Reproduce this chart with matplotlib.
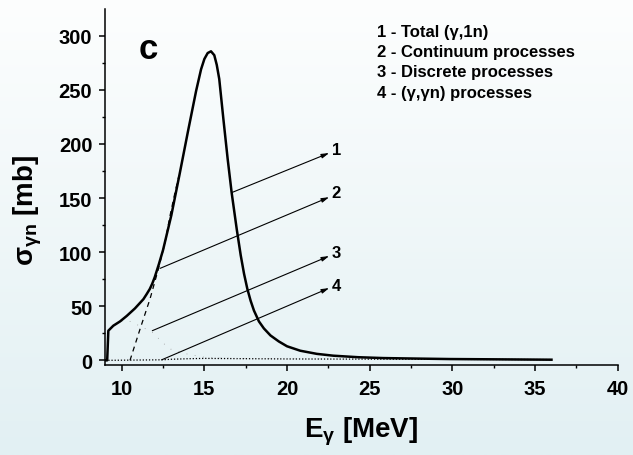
import numpy as np
import matplotlib
matplotlib.use("Agg")
import matplotlib.pyplot as plt
from matplotlib.ticker import MultipleLocator

plt.rcParams['font.family'] = ['Liberation Sans', 'DejaVu Sans']
plt.rcParams['font.weight'] = 'bold'
plt.rcParams['mathtext.fontset'] = 'custom'
plt.rcParams['mathtext.rm'] = 'Liberation Sans:bold'
plt.rcParams['mathtext.it'] = 'Liberation Sans:bold'
plt.rcParams['mathtext.bf'] = 'Liberation Sans:bold'

# ---- data ----
energy_total = [9.05, 9.12, 9.19, 9.49, 9.9, 10.3, 10.8, 11.31, 11.5, 11.7, 11.85, 12.0,
                12.25, 12.5, 13.0, 13.5, 14.0, 14.5, 14.8, 15.0, 15.2, 15.4, 15.6, 15.75,
                15.9, 16.15, 16.41, 16.65, 16.96, 17.2, 17.4, 17.6, 17.8, 18.0,
                18.3, 18.6, 19.0, 19.5, 20.0, 20.8, 21.8, 22.8, 24.3, 25.83, 28.0,
                29.86, 33.0, 36.0]
sigma_total = [0, 0, 27.4, 32, 36, 41, 48, 56.5, 61, 66, 71, 77,
               89, 102, 134, 172, 211, 249, 269, 278.5, 284, 285.6, 282, 273,
               260, 223, 186, 155, 121, 97, 80, 66, 55, 46,
               36, 29.5, 23, 17.5, 13, 8.9, 6.0, 4.3, 2.9, 2.1, 1.6,
               1.2, 0.9, 0.6]

energy_cont = [10.5, 11.11, 11.71, 12.21, 12.62, 12.92, 13.22, 13.45]
sigma_cont = [0, 29, 56.7, 84, 109, 133.6, 155, 170]

energy_disc = [9.19, 9.49, 9.9, 10.5, 11.2, 11.85, 12.5, 12.96, 13.97, 15.14, 17.0,
               20.0, 25.0, 30.0, 36.0]
sigma_disc = [27, 32, 36, 36, 31, 26, 16, 10.4, 5.8, 2.5, 1.8, 1.5, 1.2, 1.0, 0.8]

energy_ggn = [9.0, 12.42, 13.0, 14.0, 15.0, 17.0, 20.0, 25.0, 30.0, 36.0]
sigma_ggn = [0, 0.5, 1.0, 1.5, 1.8, 1.6, 1.3, 1.1, 0.9, 0.7]

arrow_labels = ['1', '2', '3', '4']
arrow_tail_x = [16.65, 12.32, 11.85, 12.42]
arrow_tail_y = [155, 85, 27.4, 0.5]
arrow_tip_x = [22.55, 22.55, 22.55, 22.55]
arrow_tip_y = [191.6, 150.8, 96.4, 66.8]
arrow_label_y = [194.6, 155, 99.8, 69]

legend_lines = ['1 - Total (γ,1n)', '2 - Continuum processes',
                '3 - Discrete processes', '4 - (γ,γn) processes']

x_ticks = [10, 15, 20, 25, 30, 35, 40]
y_ticks = [0, 50, 100, 150, 200, 250, 300]

# ---- figure ----
W, H = 633, 456
fig = plt.figure(figsize=(W / 100, H / 100), dpi=100)

# background gradient
bg = fig.add_axes([0, 0, 1, 1], zorder=-10)
top = np.array([0xfd, 0xfe, 0xfe]) / 255
bot = np.array([0xe2, 0xf0, 0xf3]) / 255
t = np.linspace(0, 1, 256)[:, None]
grad = (top[None, :] * (1 - t) + bot[None, :] * t)[:, None, :]
bg.imshow(grad, aspect='auto', extent=[0, 1, 0, 1], origin='upper')
bg.set_axis_off()

left, right, ytop, ybot = 105.2, 617.6, 10, 366
ax = fig.add_axes([left / W, 1 - ybot / H, (right - left) / W, (ybot - ytop) / H])
ax.patch.set_alpha(0)

ax.plot(energy_ggn, sigma_ggn, color='black', lw=0.9, linestyle=(0, (1, 1.5)))
ax.plot(energy_disc, sigma_disc, color='#9a9a9a', lw=0.6, linestyle=(0, (1, 9)))
ax.plot(energy_cont, sigma_cont, color='black', lw=0.9, linestyle=(0, (4, 3.5)))
ax.plot(energy_total, sigma_total, color='black', lw=1.8, solid_joinstyle='round')

for lab, tx, ty, hx, hy, ly in zip(arrow_labels, arrow_tail_x, arrow_tail_y,
                                   arrow_tip_x, arrow_tip_y, arrow_label_y):
    ax.annotate('', xy=(hx, hy), xytext=(tx, ty),
                arrowprops=dict(arrowstyle='-|>,head_length=0.45,head_width=0.13',
                                lw=0.8, color='black', shrinkA=0, shrinkB=0))
    ax.text(hx + 0.15, ly, lab, fontsize=12, fontweight='bold', ha='left', va='center')

ax.text(11.59, 288.6, 'c', fontsize=25, fontweight='bold', ha='center', va='center')

ax.set_xlim(9, 40)
ax.set_ylim(-4.3, 324.7)
ax.set_xticks(x_ticks)
ax.set_yticks(y_ticks)
ax.xaxis.set_minor_locator(MultipleLocator(2.5))
ax.yaxis.set_minor_locator(MultipleLocator(25))
for s in ['top', 'right']:
    ax.spines[s].set_visible(False)
for s in ['left', 'bottom']:
    ax.spines[s].set_linewidth(1.1)
ax.tick_params(which='major', direction='out', length=4.3, width=1.1, labelsize=14.5)
ax.tick_params(which='minor', direction='out', length=2.5, width=1.0)
ax.tick_params(axis='x', which='major', pad=6)
ax.tick_params(axis='y', which='major', pad=5)
for lbl in ax.get_xticklabels() + ax.get_yticklabels():
    lbl.set_fontweight('bold')

fig.text(361 / W, 1 - 432 / H, r'E$_{\gamma}$ [MeV]', fontsize=20, fontweight='bold',
         ha='center', va='center')
fig.text(28 / W, 1 - 211 / H, r'σ$_{\gamma n}$ [mb]', fontsize=20, fontweight='bold',
         ha='center', va='center', rotation=90)

for i, line in enumerate(legend_lines):
    fig.text(377 / W, 1 - (32.3 + 20.3 * i) / H, line, fontsize=12, fontweight='bold',
             ha='left', va='center')

fig.savefig('out.png', dpi=100)
